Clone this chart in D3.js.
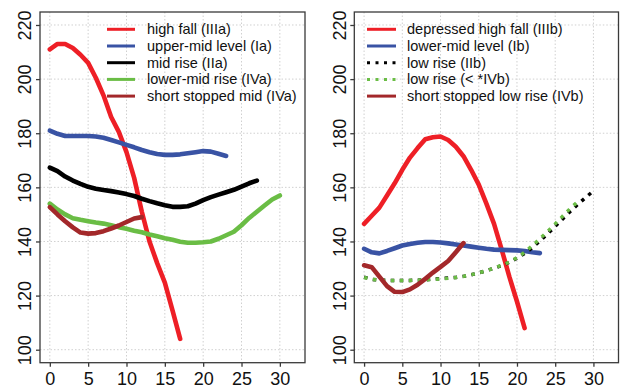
<!DOCTYPE html>
<html>
<head>
<meta charset="utf-8">
<script src="https://cdn.jsdelivr.net/npm/d3@7/dist/d3.min.js"></script>
<style>
  html, body { margin: 0; padding: 0; background: #fff; }
  svg { display: block; font-family: "Liberation Sans", Arial, sans-serif; }
</style>
</head>
<body>
<svg id="chart" width="621" height="390"></svg>
<script>
// Contour values (Hz) sampled at successive time points (0, 1, 2, ...)
const highFallIIIa = [211, 213, 213, 211.5, 209, 206, 200.5, 194, 186, 180.5, 173, 163.5, 151, 140, 132, 124.8, 114.5, 104];
const upperMidLevelIa = [181, 179.8, 179, 179, 179, 179, 178.8, 178.3, 177.5, 176.6, 175.7, 174.8, 173.8, 173, 172.3, 172, 172, 172.2, 172.6, 173, 173.4, 173.2, 172.4, 171.6];
const midRiseIIa = [167.3, 166, 164, 162.5, 161.3, 160.2, 159.5, 159, 158.6, 158.1, 157.5, 156.8, 155.8, 154.9, 154.1, 153.4, 152.8, 152.8, 153, 154, 155.3, 156.4, 157.3, 158.2, 159.1, 160.3, 161.5, 162.5];
const lowerMidRiseIVa = [154, 151.8, 150, 148.6, 148, 147.5, 147, 146.6, 146, 145.3, 144.7, 144, 143.4, 142.6, 141.9, 141.2, 140.6, 139.9, 139.5, 139.5, 139.7, 140, 141, 142.3, 143.6, 146, 148.7, 151, 153.3, 155.5, 157];
const shortStoppedMidIVa = [152.7, 150, 147.5, 145.2, 143.3, 142.9, 143.1, 143.8, 144.8, 145.9, 147.2, 148.5, 149];

const depressedHighFallIIIb = [146.5, 149.5, 152.5, 157, 161.5, 166.5, 171, 174.5, 177.8, 178.5, 178.8, 177.5, 175, 171.5, 166.5, 161, 154, 146.5, 137, 127, 117.8, 108];
const lowerMidLevelIb = [137.3, 136, 135.6, 136.5, 137.5, 138.5, 139.1, 139.5, 139.8, 139.8, 139.6, 139.3, 138.9, 138.5, 138.1, 137.7, 137.3, 137, 136.9, 136.8, 136.7, 136.5, 136, 135.7];
const lowRiseIIb = [126.8, 126, 125.7, 125.6, 125.6, 125.6, 125.6, 125.7, 125.8, 126.1, 126.3, 126.5, 126.7, 127.1, 127.7, 128.4, 129.2, 130.1, 131.1, 132.3, 133.8, 135.6, 137.7, 140.2, 142.8, 145.6, 148.4, 151.2, 153.8, 156.3, 158.7];
const lowRiseIVbStar = [126.7, 126, 125.7, 125.6, 125.6, 125.6, 125.6, 125.7, 125.8, 126, 126.2, 126.4, 126.7, 127.1, 127.7, 128.4, 129.2, 130.1, 131.2, 132.4, 134, 136, 138.4, 141, 143.7, 146.5, 149.4, 152.3, 154.8];
const shortStoppedLowRiseIVb = [131.2, 130.5, 127, 123.5, 121.4, 121.3, 122.3, 124, 126.2, 128.5, 130.6, 132.8, 136, 139.4];

const xTicks = [0, 5, 10, 15, 20, 25, 30];
const yTicks = [100, 120, 140, 160, 180, 200, 220];

const panels = [
  {
    box: { left: 40, right: 305, top: 12, bottom: 362.7 },
    legend: { lineX0: 107, lineX1: 135, textX: 147 },
    series: [
      { name: "high fall (IIIa)", values: highFallIIIa, color: "#ee1f26", dash: null },
      { name: "upper-mid level (Ia)", values: upperMidLevelIa, color: "#3953a4", dash: null },
      { name: "mid rise (IIa)", values: midRiseIIa, color: "#000000", dash: null },
      { name: "lower-mid rise (IVa)", values: lowerMidRiseIVa, color: "#6abd45", dash: null },
      { name: "short stopped mid (IVa)", values: shortStoppedMidIVa, color: "#a3282a", dash: null }
    ]
  },
  {
    box: { left: 354.3, right: 618.5, top: 12, bottom: 362.7 },
    legend: { lineX0: 367, lineX1: 396, textX: 407 },
    series: [
      { name: "depressed high fall (IIIb)", values: depressedHighFallIIIb, color: "#ee1f26", dash: null },
      { name: "lower-mid level (Ib)", values: lowerMidLevelIb, color: "#3953a4", dash: null },
      { name: "low rise (IIb)", values: lowRiseIIb, color: "#000000", dash: "3.5,5.5" },
      { name: "low rise (< *IVb)", values: lowRiseIVbStar, color: "#6abd45", dash: "3.5,5.5" },
      { name: "short stopped low rise (IVb)", values: shortStoppedLowRiseIVb, color: "#a3282a", dash: null }
    ]
  }
];

const svg = d3.select("#chart");
const axisColor = "#3a3a3a";

panels.forEach(p => {
  const b = p.box;
  const x = d3.scaleLinear().domain([-1.28, 33.28]).range([b.left, b.right]);
  const y = d3.scaleLinear().domain([95.2, 224.8]).range([b.bottom, b.top]);
  const g = svg.append("g");

  // dotted grid at tick positions
  g.append("g").selectAll("line.vg").data(xTicks).join("line")
    .attr("x1", d => x(d)).attr("x2", d => x(d))
    .attr("y1", b.top).attr("y2", b.bottom)
    .attr("stroke", "#d0d0d0").attr("stroke-width", 1).attr("stroke-dasharray", "1.5,2");
  g.append("g").selectAll("line.hg").data(yTicks).join("line")
    .attr("x1", b.left).attr("x2", b.right)
    .attr("y1", d => y(d)).attr("y2", d => y(d))
    .attr("stroke", "#d0d0d0").attr("stroke-width", 1).attr("stroke-dasharray", "1.5,2");

  // axes
  const xAxis = d3.axisBottom(x).tickValues(xTicks).tickSize(4).tickPadding(7).tickFormat(d3.format("d"));
  const yAxis = d3.axisLeft(y).tickValues(yTicks).tickSize(4).tickPadding(5).tickFormat(d3.format("d"));
  const gx = g.append("g").attr("transform", `translate(0,${b.bottom})`).call(xAxis);
  const gy = g.append("g").attr("transform", `translate(${b.left},0)`).call(yAxis);
  [gx, gy].forEach(a => {
    a.select(".domain").remove();
    a.selectAll(".tick line").attr("stroke", axisColor).attr("stroke-width", 1.3);
    a.selectAll(".tick text").attr("fill", "#111").attr("font-size", 18)
      .attr("font-family", "Liberation Sans, Arial, sans-serif");
  });
  gx.selectAll(".tick text").attr("dy", null).attr("y", 22.8).attr("dominant-baseline", "alphabetic");
  gy.selectAll(".tick text")
    .attr("x", null).attr("dy", null)
    .attr("text-anchor", "middle")
    .attr("transform", "translate(-8.8,0) rotate(-90)")
    .attr("dominant-baseline", "alphabetic");

  // data lines
  const line = d3.line().x((d, i) => x(i)).y(d => y(d));
  p.series.forEach(s => {
    g.append("path")
      .datum(s.values)
      .attr("d", line)
      .attr("fill", "none")
      .attr("stroke", s.color)
      .attr("stroke-width", s.dash ? 3.5 : 4.6)
      .attr("stroke-linecap", s.dash ? "butt" : "round")
      .attr("stroke-linejoin", "round")
      .attr("stroke-dasharray", s.dash);
  });

  // legend
  const lg = g.append("g");
  p.series.forEach((s, i) => {
    const ly = 29.3 + i * 16.7;
    lg.append("line")
      .attr("x1", p.legend.lineX0).attr("x2", p.legend.lineX1)
      .attr("y1", ly).attr("y2", ly)
      .attr("stroke", s.color)
      .attr("stroke-width", 3)
      .attr("stroke-dasharray", s.dash ? "3,5.5" : null);
    lg.append("text")
      .attr("x", p.legend.textX).attr("y", ly + 5)
      .attr("font-size", 14.5)
      .attr("fill", "#111")
      .text(s.name);
  });

  // plot frame
  g.append("rect")
    .attr("x", b.left).attr("y", b.top)
    .attr("width", b.right - b.left).attr("height", b.bottom - b.top)
    .attr("fill", "none").attr("stroke", axisColor).attr("stroke-width", 1.3);
});
</script>
</body>
</html>
